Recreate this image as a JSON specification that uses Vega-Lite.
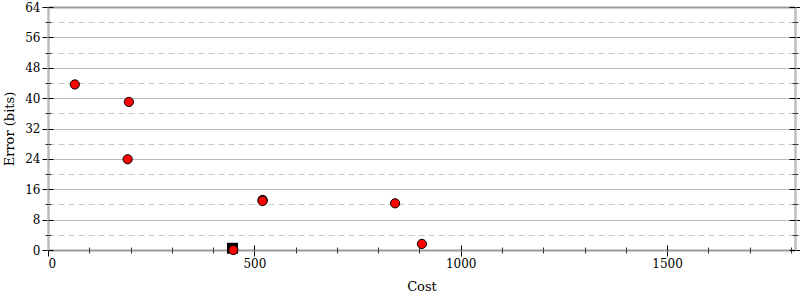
{
  "$schema": "https://vega.github.io/schema/vega-lite/v6.json",
  "width": 747,
  "height": 243,
  "autosize": {"type": "none"},
  "padding": {"left": 48, "top": 7, "right": 5, "bottom": 50},
  "background": "white",
  "config": {
    "view": {"stroke": null},
    "font": "DejaVu Serif",
    "axis": {"labelFont": "DejaVu Serif", "titleFont": "DejaVu Serif", "labelFontSize": 12, "titleFontSize": 13, "titleFontWeight": "normal", "labelColor": "#000", "titleColor": "#000", "tickColor": "#000", "tickWidth": 1}
  },
  "datasets": {
    "pts": [
      {"cost": 65, "error": 43.6},
      {"cost": 196, "error": 39.0},
      {"cost": 193, "error": 23.9},
      {"cost": 520, "error": 13.2},
      {"cost": 520, "error": 12.9},
      {"cost": 841, "error": 12.3},
      {"cost": 906, "error": 1.6},
      {"cost": 449, "error": 0}
    ],
    "ref": [
      {"cost": 447, "error": 0.45}
    ]
  },
  "resolve": {"axis": {"x": "independent", "y": "independent"}},
  "layer": [
    {
      "data": {"name": "ref"},
      "mark": {"type": "point", "shape": "square", "filled": true, "color": "#000", "opacity": 1, "size": 121, "clip": false},
      "encoding": {
        "x": {"field": "cost", "type": "quantitative", "scale": {"domain": [0, 1810], "nice": false, "zero": false},
          "axis": {"orient": "bottom", "title": "Cost", "format": "d", "values": [0, 500, 1000, 1500], "tickSize": 6, "labelPadding": 2, "titlePadding": 11, "grid": false, "domainColor": "#999", "domainWidth": 2}},
        "y": {"field": "error", "type": "quantitative", "scale": {"domain": [0, 64], "nice": false, "zero": false},
          "axis": {"orient": "left", "title": "Error (bits)", "values": [0, 8, 16, 24, 32, 40, 48, 56, 64], "tickSize": 6, "labelPadding": 2, "titlePadding": 8, "grid": true, "gridColor": "#bbb", "gridWidth": 1, "domainColor": "#bbb", "domainWidth": 2.5}}
      }
    },
    {
      "data": {"name": "pts"},
      "mark": {"type": "point", "filled": true, "fill": "#ff0000", "stroke": "#000", "strokeWidth": 1, "opacity": 1, "size": 85, "clip": false},
      "encoding": {
        "x": {"field": "cost", "type": "quantitative",
          "axis": {"orient": "top", "title": null, "labels": false, "ticks": false, "grid": false, "domainColor": "#999", "domainWidth": 2}},
        "y": {"field": "error", "type": "quantitative",
          "axis": {"orient": "right", "title": null, "labels": false, "values": [0, 8, 16, 24, 32, 40, 48, 56, 64], "tickSize": 5, "grid": false, "domainColor": "#bbb", "domainWidth": 2.5}}
      }
    },
    {
      "data": {"name": "pts"},
      "mark": {"type": "point", "opacity": 0},
      "encoding": {
        "x": {"field": "cost", "type": "quantitative",
          "axis": {"orient": "bottom", "title": null, "labels": false, "domain": false, "grid": false, "values": [0, 500, 1000, 1500], "tickSize": -5}},
        "y": {"field": "error", "type": "quantitative",
          "axis": {"orient": "left", "title": null, "labels": false, "domain": false, "grid": false, "values": [0, 8, 16, 24, 32, 40, 48, 56, 64], "tickSize": -5}}
      }
    },
    {
      "data": {"name": "pts"},
      "mark": {"type": "point", "opacity": 0},
      "encoding": {
        "x": {"field": "cost", "type": "quantitative",
          "axis": {"orient": "bottom", "title": null, "labels": false, "domain": false, "grid": false, "values": [100, 200, 300, 400, 600, 700, 800, 900, 1100, 1200, 1300, 1400, 1600, 1700, 1800], "tickSize": 3, "tickColor": "#333"}},
        "y": {"field": "error", "type": "quantitative",
          "axis": {"orient": "left", "title": null, "labels": false, "domain": false, "values": [4, 12, 20, 28, 36, 44, 52, 60], "tickSize": 3, "tickColor": "#333", "grid": true, "gridColor": "#c8c8c8", "gridDash": [6, 4], "gridWidth": 1}}
      }
    },
    {
      "data": {"name": "pts"},
      "mark": {"type": "point", "opacity": 0},
      "encoding": {
        "x": {"field": "cost", "type": "quantitative",
          "axis": {"orient": "bottom", "title": null, "labels": false, "domain": false, "grid": false, "values": [100, 200, 300, 400, 600, 700, 800, 900, 1100, 1200, 1300, 1400, 1600, 1700, 1800], "tickSize": -3, "tickColor": "#333"}},
        "y": {"field": "error", "type": "quantitative",
          "axis": {"orient": "left", "title": null, "labels": false, "domain": false, "grid": false, "values": [4, 12, 20, 28, 36, 44, 52, 60], "tickSize": -3, "tickColor": "#333"}}
      }
    },
    {
      "data": {"name": "pts"},
      "mark": {"type": "point", "opacity": 0},
      "encoding": {
        "x": {"field": "cost", "type": "quantitative", "axis": null},
        "y": {"field": "error", "type": "quantitative",
          "axis": {"orient": "right", "title": null, "labels": false, "domain": false, "grid": false, "values": [0, 8, 16, 24, 32, 40, 48, 56, 64], "tickSize": -6}}
      }
    },
    {
      "data": {"name": "pts"},
      "mark": {"type": "point", "opacity": 0},
      "encoding": {
        "x": {"field": "cost", "type": "quantitative", "axis": null},
        "y": {"field": "error", "type": "quantitative",
          "axis": {"orient": "right", "title": null, "labels": false, "domain": false, "grid": false, "values": [4, 12, 20, 28, 36, 44, 52, 60], "tickSize": 3, "tickColor": "#333"}}
      }
    },
    {
      "data": {"name": "pts"},
      "mark": {"type": "point", "opacity": 0},
      "encoding": {
        "x": {"field": "cost", "type": "quantitative", "axis": null},
        "y": {"field": "error", "type": "quantitative",
          "axis": {"orient": "right", "title": null, "labels": false, "domain": false, "grid": false, "values": [4, 12, 20, 28, 36, 44, 52, 60], "tickSize": -3, "tickColor": "#333"}}
      }
    }
  ]
}
